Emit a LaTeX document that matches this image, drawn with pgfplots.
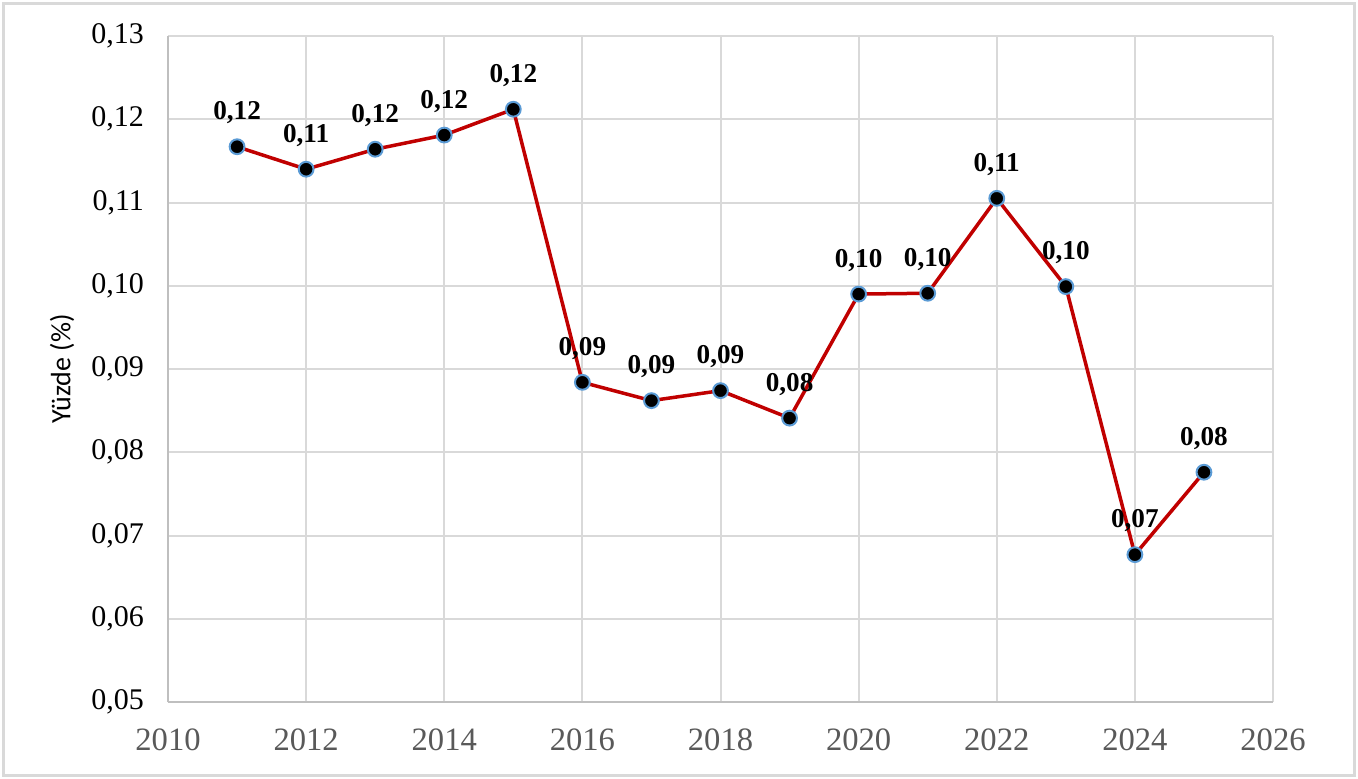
\documentclass[border=0pt]{standalone}
\usepackage{pgfplots}
\pgfplotsset{compat=1.18}
\usepackage{pgfplotstable}
\usepackage{fontspec}
\setmainfont{Liberation Serif}
\newfontfamily\labelfont{Carlito}
\definecolor{gridgray}{HTML}{D9D9D9}
\definecolor{axisgray}{HTML}{BFBFBF}
\definecolor{tickgray}{HTML}{595959}
\definecolor{linered}{HTML}{C00000}
\definecolor{markblue}{HTML}{5B9BD5}

\pgfplotstableread{
x y lab
2011 0.1167 0,12
2012 0.1140 0,11
2013 0.1164 0,12
2014 0.1181 0,12
2015 0.1212 0,12
2016 0.0884 0,09
2017 0.0862 0,09
2018 0.0874 0,09
2019 0.0841 0,08
2020 0.0990 0,10
2021 0.0991 0,10
2022 0.1105 0,11
2023 0.0999 0,10
2024 0.0677 0,07
2025 0.0776 0,08
}\datatable

\begin{document}
\begin{tikzpicture}
\begin{axis}[
  at={(84pt,38pt)}, anchor=south west,
  scale only axis, width=552.5pt, height=333pt,
  xmin=2010, xmax=2026, ymin=0.05, ymax=0.13,
  xtick={2010,2012,2014,2016,2018,2020,2022,2024,2026},
  xticklabels={2010,2012,2014,2016,2018,2020,2022,2024,2026},
  ytick={0.05,0.06,0.07,0.08,0.09,0.10,0.11,0.12,0.13},
  yticklabels={{0,05},{0,06},{0,07},{0,08},{0,09},{0,10},{0,11},{0,12},{0,13}},
  grid=major,
  major grid style={gridgray, line width=1pt},
  axis x line*=bottom, axis y line*=left,
  axis line style={axisgray, line width=1pt},
  tick style={draw=none},
  xticklabel style={font=\fontsize{16.3}{16.3}\selectfont, text=tickgray, anchor=base, yshift=-24pt},
  yticklabel style={font=\fontsize{15}{15}\selectfont, text=black, anchor=east, xshift=-8.5pt},
  ylabel={Yüzde (\%)},
  every axis y label/.style={at={(axis description cs:0,0.5)}, xshift=-53pt, rotate=90, anchor=center, font=\labelfont\fontsize{14}{14}\selectfont},
  clip=false,
]
\addplot[color=linered, line width=1.75pt, mark=*, mark size=3.7pt,
  mark options={fill=black, draw=markblue, line width=1pt},
  point meta=explicit symbolic,
  nodes near coords,
  every node near coord/.append style={font=\bfseries\fontsize{13.6}{13.6}\selectfont, text=black, anchor=base, yshift=13.5pt, inner sep=0pt},
] table[x=x, y=y, meta=lab] {\datatable};
\end{axis}
\draw[gridgray, line width=1.5pt] (1.75pt,1.25pt) rectangle (677.25pt,387.25pt);
\pgfresetboundingbox
\useasboundingbox (0,0) rectangle (679pt,389pt);
\end{tikzpicture}
\end{document}
